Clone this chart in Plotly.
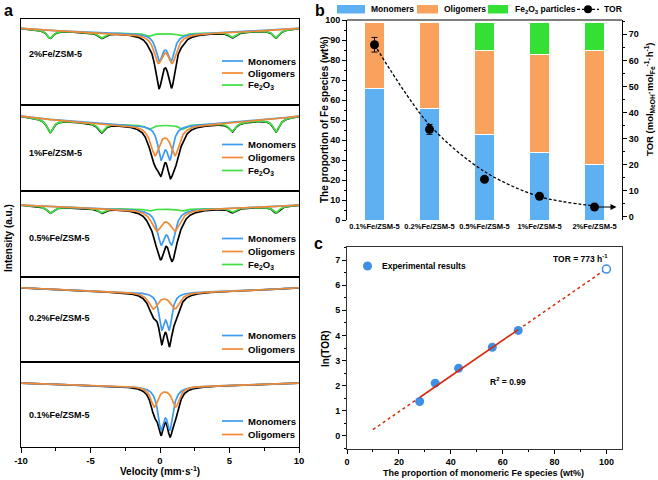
import numpy as np
import plotly.graph_objects as go

# ================= DATA =================
# ---- panel a : Mossbauer fits (absorption, arbitrary units, downward) ----
samples_a = ["2%Fe/ZSM-5", "1%Fe/ZSM-5", "0.5%Fe/ZSM-5", "0.2%Fe/ZSM-5", "0.1%Fe/ZSM-5"]
velocity = np.linspace(-10, 10, 801)          # velocity channels (mm/s)
baseline_edge = [9.3, 11.0, 14.0, 10.7, 21.0]
baseline_center = [14.5, 20.0, 18.0, 15.0, 24.0]
mono_p1 = [-0.05, 0.07, 0.07, 0.12, 0.07]
mono_p2 = [0.80, 0.72, 0.84, 0.67, 0.72]
mono_min = [28.0, 35.0, 36.0, 38.0, 44.0]
mono_hump = [16.5, 25.0, 26.0, 28.0, 32.0]
olig_p1 = [-0.12, -0.36, -0.24, -0.48, -0.41]
olig_p2 = [0.88, 1.08, 1.08, 1.08, 1.13]
olig_min = [30.0, 30.7, 22.0, 17.0, 21.0]
olig_hump = [19.5, 13.0, 13.0, 7.0, 6.0]
total_min = [54.5, 53.0, 52.0, 55.0, 51.0]      # depth of the total fit (black)
hem_pos = [-7.9, -4.2, -0.8, 1.6, 5.2, 8.35]
hem_rel = [1.0, 0.667, 0.333, 0.333, 0.667, 1.0]
hem_outer = [8.0, 13.0, 6.5, 0.0, 0.0]
hem_hwhm = 0.28

# ---- panel b ----
cats_b = ["0.1%Fe/ZSM-5", "0.2%Fe/ZSM-5", "0.5%Fe/ZSM-5", "1%Fe/ZSM-5", "2%Fe/ZSM-5"]
monomers = [66, 56, 43, 34, 28]
oligomers = [33, 43, 42, 49, 57]
fe2o3_part = [0, 0, 14, 16, 14]
tor = [66, 33.5, 14.3, 7.8, 3.7]
tor_err = [2.8, 1.9, 0, 0, 0]
tor_fit = [66, 35.2, 17.3, 7.7, 4.1]

# ---- panel c ----
mono_prop = [28, 34, 43, 56, 66]
ln_tor = [1.37, 2.1, 2.69, 3.53, 4.2]
pred_x = [100]
pred_y = [6.64]
fit_x = [10, 28, 66, 100]
fit_y = [0.25, 1.53, 4.23, 6.65]

# ================= HELPERS =================
W, H = 658, 480
def PX(x): return x / W
def PY(y): return 1 - y / H

def doublet(v, p1, p2, m, h):
    s = p2 - p1
    r = h / m
    lo, hi = 1e-3, 50.0
    for _ in range(80):
        mid = (lo + hi) / 2
        ratio = (2 * mid**2 / (1 + mid**2)) / (1 + mid**2 / (4 + mid**2))
        if ratio < r:
            lo = mid
        else:
            hi = mid
    x = (lo + hi) / 2
    g = x * s / 2
    A = m / (1 + x**2 / (4 + x**2))
    return A * g**2 / ((v - p1)**2 + g**2) + A * g**2 / ((v - p2)**2 + g**2)

def sextet(v, depth):
    out = np.zeros_like(v)
    for p, r in zip(hem_pos, hem_rel):
        out += depth * r * hem_hwhm**2 / ((v - p)**2 + hem_hwhm**2)
    return out

FONT = "Liberation Sans, Arial, sans-serif"
BLUE_L, ORANGE_L, GREEN_L = "#3D9BF0", "#F28A34", "#3FE03F"
BLUE_B, ORANGE_B, GREEN_B = "#5DB0F2", "#F9A25E", "#33E033"
def F(size): return dict(size=size, family=FONT, weight="bold", color="black")

fig = go.Figure()
layout = dict(template="none", width=W, height=H,
              margin=dict(l=0, r=0, t=0, b=0, pad=0, autoexpand=False),
              plot_bgcolor="white", paper_bgcolor="white", showlegend=False,
              font=F(10))
shapes, annots = [], []

def note(x, y, text, size, xanchor="center", angle=0):
    annots.append(dict(x=PX(x), y=PY(y), xref="paper", yref="paper", text=text, showarrow=False,
                       xanchor=xanchor, yanchor="middle", textangle=angle, font=F(size)))

# ================= PANEL A =================
tops = [19, 105, 191, 277, 362]
bots = [105, 191, 277, 362, 447]
label_rows = [54, 153, 238, 318, 415]
legend_rows = [[61, 73, 85], [144.5, 157.5, 170.5], [238.5, 251.5, 264.5], [335.5, 349], [421, 434.5]]
LW = 1.7
for i in range(5):
    n = i + 1
    xa, ya = f"x{n}", f"y{n}"
    base = baseline_edge[i] + (baseline_center[i] - baseline_edge[i]) * (1 - (velocity / 10) ** 2)
    hem = sextet(velocity, hem_outer[i])
    mono = doublet(velocity, mono_p1[i], mono_p2[i], mono_min[i], mono_hump[i])
    olig = doublet(velocity, olig_p1[i], olig_p2[i], olig_min[i], olig_hump[i])
    dbl = mono + olig
    tot = dbl * (total_min[i] / dbl.max()) + hem
    fig.add_trace(go.Scatter(x=velocity, y=-(base + tot), mode="lines",
                             line=dict(color="black", width=LW), xaxis=xa, yaxis=ya))
    if hem_outer[i] > 0:
        fig.add_trace(go.Scatter(x=velocity, y=-(base + hem), mode="lines",
                                 line=dict(color=GREEN_L, width=LW), xaxis=xa, yaxis=ya))
    fig.add_trace(go.Scatter(x=velocity, y=-(base + mono), mode="lines",
                             line=dict(color=BLUE_L, width=LW), xaxis=xa, yaxis=ya))
    fig.add_trace(go.Scatter(x=velocity, y=-(base + olig), mode="lines",
                             line=dict(color=ORANGE_L, width=LW), xaxis=xa, yaxis=ya))
    last = (i == 4)
    layout[f"xaxis{n if n > 1 else ''}"] = dict(
        domain=[PX(21), PX(299)], anchor=ya, range=[-10, 10], showline=True, mirror=True,
        linecolor="black", linewidth=1, showgrid=False, zeroline=False, automargin=False,
        ticks="outside" if last else "", ticklen=5, tickwidth=1, tickcolor="black",
        showticklabels=last, tickvals=[-10, -5, 0, 5, 10],
        ticktext=["-10", "-5", "0", "5", "10"], tickfont=F(9.5),
        minor=dict(ticks="outside" if last else "", ticklen=3, tickcolor="black",
                   tickvals=[-7.5, -2.5, 2.5, 7.5]))
    h = bots[i] - tops[i]
    layout[f"yaxis{n if n > 1 else ''}"] = dict(
        domain=[PY(bots[i]), PY(tops[i])], anchor=xa, range=[-h, 0], showline=True,
        mirror=True, linecolor="black", linewidth=1, showgrid=False, zeroline=False,
        showticklabels=False, ticks="", automargin=False)
    note(27, label_rows[i], samples_a[i], 9, xanchor="left")
    names = ["Monomers", "Oligomers", "Fe<sub>2</sub>O<sub>3</sub>"]
    cols = [BLUE_L, ORANGE_L, GREEN_L]
    for r, nm, c in zip(legend_rows[i], names, cols):
        shapes.append(dict(type="line", xref="paper", yref="paper", x0=PX(222), x1=PX(243),
                           y0=PY(r), y1=PY(r), line=dict(color=c, width=1.7)))
        note(246, r, nm, 9.5, xanchor="left")

note(160, 471, "Velocity (mm·s<sup>-1</sup>)", 10)
note(8, 238, "Intensity (a.u.)", 10, angle=-90)
note(8, 10, "a", 16)

# ================= PANEL B =================
xb = list(range(len(cats_b)))
for vals, col, nm in [(monomers, BLUE_B, "Monomers"), (oligomers, ORANGE_B, "Oligomers"),
                      (fe2o3_part, GREEN_B, "Fe2O3 particles")]:
    fig.add_trace(go.Bar(x=xb, y=vals, name=nm, marker=dict(color=col, line=dict(color="white", width=1)),
                         xaxis="x6", yaxis="y6"))
fig.add_trace(go.Scatter(x=xb, y=tor_fit, mode="lines", line=dict(color="black", width=1.3, dash="3px,2px",
                         shape="spline", smoothing=0.9), xaxis="x6", yaxis="y7"))
fig.add_trace(go.Scatter(x=xb, y=tor, mode="markers",
                         marker=dict(color="black", size=9),
                         error_y=dict(type="data", array=tor_err, visible=True, color="black",
                                      thickness=1, width=3),
                         xaxis="x6", yaxis="y7"))
layout["barmode"] = "stack"
layout["bargap"] = 0.62
layout["xaxis6"] = dict(domain=[PX(347), PX(622)], anchor="y6", range=[-0.5, 4.5],
                        tickvals=xb, ticktext=cats_b, showline=False, showgrid=False,
                        zeroline=False, ticks="", tickfont=F(7.5), automargin=False)
layout["yaxis6"] = dict(domain=[PY(220), PY(20)], anchor="x6", range=[0, 100], dtick=10,
                        showline=True, linecolor="black", linewidth=1, showgrid=False, zeroline=False,
                        ticks="outside", ticklen=4, tickcolor="black", tickfont=F(9), automargin=False,
                        minor=dict(dtick=5, ticks="outside", ticklen=2, tickcolor="black"))
layout["yaxis7"] = dict(overlaying="y6", side="right", anchor="x6", range=[-1.3, 75.5],
                        tick0=0, dtick=10, showline=True, linecolor="black", linewidth=1,
                        showgrid=False, zeroline=False, ticks="outside", ticklen=4, tickcolor="black",
                        tickfont=F(9), automargin=False,
                        minor=dict(dtick=5, tick0=0, ticks="outside", ticklen=2, tickcolor="black"))
shapes.append(dict(type="line", xref="paper", yref="paper", x0=PX(347), x1=PX(622),
                   y0=PY(20), y1=PY(20), line=dict(color="black", width=1)))
annots.append(dict(x=4.4, y=tor[4], xref="x6", yref="y7", ax=4.0, ay=tor[4], axref="x6", ayref="y7",
                   showarrow=True, arrowhead=2, arrowsize=1, arrowwidth=1.2, arrowcolor="black", text=""))
for (x0, x1), col, txt, tx in [((337, 365), BLUE_B, "Monomers", 369), ((417, 438), ORANGE_B, "Oligomers", 442),
                               ((488, 508), GREEN_B, "Fe<sub>2</sub>O<sub>3</sub> particles", 513)]:
    shapes.append(dict(type="rect", xref="paper", yref="paper", x0=PX(x0), x1=PX(x1), y0=PY(13.5), y1=PY(5),
                       fillcolor=col, line=dict(width=0)))
    note(tx, 9.5, txt, 8.5, xanchor="left")
shapes.append(dict(type="line", xref="paper", yref="paper", x0=PX(577), x1=PX(599), y0=PY(9.3), y1=PY(9.3),
                   line=dict(color="black", width=1.3, dash="3px,2px")))
shapes.append(dict(type="circle", xref="paper", yref="paper", x0=PX(584), x1=PX(592), y0=PY(13.3), y1=PY(5.3),
                   fillcolor="black", line=dict(width=0)))
note(602, 9.5, "TOR", 8.5, xanchor="left")
note(324, 120, "The proportion of Fe species (wt%)", 10, angle=-90)
note(649, 99, "TOR (mol<sub>MeOH</sub>·mol<sub>Fe</sub><sup>-1</sup>·h<sup>-1</sup>)", 9.5, angle=-90)
note(320, 10, "b", 16)

# ================= PANEL C =================
RED = "#D62B0B"
CBLUE = "#3F8FE8"
fig.add_trace(go.Scatter(x=fit_x[0:2], y=fit_y[0:2], mode="lines",
                         line=dict(color=RED, width=1.5, dash="dot"), xaxis="x7", yaxis="y8"))
fig.add_trace(go.Scatter(x=fit_x[2:4], y=fit_y[2:4], mode="lines",
                         line=dict(color=RED, width=1.5, dash="dot"), xaxis="x7", yaxis="y8"))
fig.add_trace(go.Scatter(x=mono_prop, y=ln_tor, mode="markers",
                         marker=dict(color=CBLUE, size=9, line=dict(width=0)), xaxis="x7", yaxis="y8"))
fig.add_trace(go.Scatter(x=fit_x[1:3], y=fit_y[1:3], mode="lines",
                         line=dict(color=RED, width=1.6), xaxis="x7", yaxis="y8"))
fig.add_trace(go.Scatter(x=pred_x, y=pred_y, mode="markers",
                         marker=dict(color="white", size=8, line=dict(color=CBLUE, width=1.5)),
                         xaxis="x7", yaxis="y8"))
layout["xaxis7"] = dict(domain=[PX(347), PX(622)], anchor="y8", range=[0, 106], dtick=20,
                        showline=True, mirror=True, linecolor="#333", linewidth=1, showgrid=False,
                        zeroline=False, ticks="outside", ticklen=4, tickcolor="black", tickfont=F(9),
                        automargin=False,
                        minor=dict(dtick=10, ticks="outside", ticklen=2, tickcolor="black"))
layout["yaxis8"] = dict(domain=[PY(449), PY(247)], anchor="x7", range=[-0.52, 7.52], dtick=1,
                        showline=True, mirror=True, linecolor="#333", linewidth=1, showgrid=False,
                        zeroline=False, ticks="outside", ticklen=4, tickcolor="black", tickfont=F(9),
                        automargin=False,
                        minor=dict(dtick=0.5, ticks="outside", ticklen=2, tickcolor="black"))
shapes.append(dict(type="circle", xref="paper", yref="paper", x0=PX(363), x1=PX(372), y0=PY(270.5), y1=PY(261.5),
                   fillcolor=CBLUE, line=dict(width=0)))
note(380, 266, "Experimental results", 8.5, xanchor="left")
note(580, 258, "TOR = 773 h<sup>-1</sup>", 8.5)
note(508, 381, "R<sup>2</sup> = 0.99", 8.5)
note(325, 349, "ln(TOR)", 10, angle=-90)
note(483, 473, "The proportion of monomeric Fe species (wt%)", 9)
note(318, 243, "c", 16)

layout["shapes"] = shapes
layout["annotations"] = annots
fig.update_layout(**layout)
fig.write_html("out.html", config={"displayModeBar": False},
               post_script="document.body.style.margin='0px';document.body.style.overflow='hidden';")
